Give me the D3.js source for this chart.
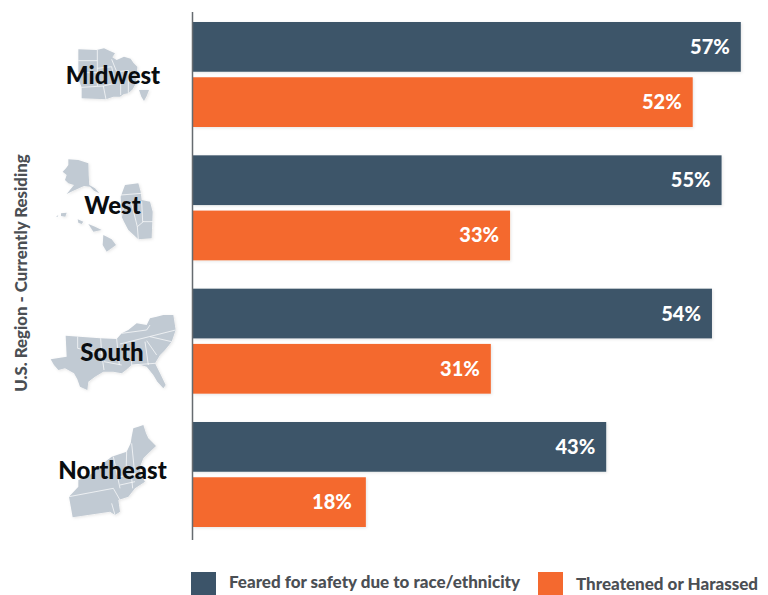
<!DOCTYPE html>
<html>
<head>
<meta charset="utf-8">
<script src="https://cdnjs.cloudflare.com/ajax/libs/d3/7.8.5/d3.min.js"></script>
<style>
  html, body { margin: 0; padding: 0; background: #fff; }
  svg { display: block; font-family: Lato, sans-serif; }
</style>
</head>
<body>
<svg id="chart" width="768" height="595"></svg>
<script>
// Survey results by region
const regions = ["Midwest", "West", "South", "Northeast"];
const seriesNames = ["Feared for safety due to race/ethnicity", "Threatened or Harassed"];
const feared = [57, 55, 54, 43];
const threatened = [52, 33, 31, 18];
const seriesColors = ["#3c5469", "#f4692f"];
const axisTitle = "U.S. Region - Currently Residing";

// Simplified region silhouettes, on a 600-unit grid per 200 pixels of page
const midwestLand = [[[235,148],[290,150],[312,145],[328,152],[345,160],[337,172],[350,180],[372,170],[392,176],[400,188],[412,200],[410,225],[408,250],[398,268],[385,280],[372,282],[360,290],[340,290],[318,298],[245,295],[245,262],[236,240],[235,215]],
  [[417,270],[447,270],[440,288],[432,303],[424,290]]];
const midwestBorders = [[[292,150],[292,258]],[[235,182],[292,182]],[[235,218],[292,218]],[[245,262],[310,258],[318,298]],[[292,205],[335,200],[345,250],[310,258]],[[335,178],[350,215],[385,212]],[[362,215],[362,285]],[[385,212],[385,280]]];
const westLand = [[[205,478],[235,480],[265,490],[266,525],[268,555],[285,565],[298,580],[282,572],[270,560],[252,558],[240,563],[220,572],[200,582],[222,555],[205,550],[195,540],[200,525],[188,515],[198,505],[205,495]],
  [[168,650],[175,645],[173,650]],[[183,640],[200,638],[196,650],[183,648]],[[233,658],[250,665],[245,672],[235,668]],[[265,672],[285,680],[305,690],[280,695]],[[310,705],[335,718],[348,735],[320,755],[308,735]],
  [[375,555],[415,550],[422,575],[425,600],[450,605],[458,635],[455,715],[415,718],[398,702],[385,690],[372,665],[365,650],[362,590]]];
const westBorders = [[[362,585],[425,580]],[[372,612],[425,605]],[[372,612],[365,650]],[[395,612],[412,680],[415,718]],[[425,605],[428,665],[458,665]],[[412,680],[430,665]]];
const southLand = [[[197,197],[300,205],[350,207],[365,190],[385,180],[410,160],[440,165],[450,145],[470,140],[490,135],[520,135],[527,180],[515,215],[495,240],[480,255],[465,280],[480,310],[497,345],[490,355],[472,335],[460,315],[440,290],[415,283],[395,285],[378,300],[365,310],[340,305],[310,305],[285,320],[265,335],[262,360],[240,350],[232,328],[222,310],[195,295],[175,300],[162,285],[152,268],[200,260]]];
const southBorders = [[[233,200],[233,235],[305,250]],[[302,205],[305,250],[312,300]],[[350,207],[358,285]],[[360,222],[527,180]],[[365,190],[440,180],[450,165]],[[395,225],[395,285]],[[435,215],[445,285]],[[440,212],[470,255]],[[395,285],[465,280]],[[312,275],[365,285]],[[450,200],[515,215]]];
const northeastLand = [[[400,475],[415,470],[430,465],[438,490],[445,505],[468,528],[445,550],[430,565],[420,590],[420,610],[435,635],[405,655],[385,680],[355,690],[360,725],[345,735],[330,725],[218,742],[207,680],[235,650],[235,630],[262,620],[290,600],[310,580],[335,560],[380,545],[392,520],[395,500]]];
const northeastBorders = [[[207,680],[340,655],[360,690]],[[340,560],[360,655]],[[380,545],[378,610]],[[395,520],[405,620]],[[358,620],[420,610]],[[360,645],[405,635]],[[395,625],[398,655]],[[335,700],[345,735]]];
const regionLand = [midwestLand, westLand, southLand, northeastLand];
const regionBorders = [midwestBorders, westBorders, southBorders, northeastBorders];
const regionOriginY = [0, 0, 270, 270];
const labelY = [76, 206, 353, 471];
const labelX = [113, 112.5, 112, 112.5];

const svg = d3.select("#chart");
const defs = svg.append("defs");
const soft = defs.append("filter").attr("id", "soft").attr("x", "-5%").attr("y", "-10%").attr("width", "110%").attr("height", "125%");
soft.append("feDropShadow").attr("dx", 1).attr("dy", 1).attr("stdDeviation", 1.5).attr("flood-color", "#000").attr("flood-opacity", 0.1);

const x = d3.scaleLinear().domain([0, 57]).range([192.8, 740.8]);
const y = d3.scaleBand().domain(regions).range([22, 527]).paddingInner(0.2125);
const inner = d3.scaleBand().domain(seriesNames).range([0, y.bandwidth()]).paddingInner(0.1);
const mapScale = d3.scaleLinear().domain([0, 600]).range([0, 200]);
const outline = d3.line().x(p => mapScale(p[0])).y(p => mapScale(p[1]));

// Region silhouettes sit underneath the labels
regions.forEach((r, i) => {
  const g = svg.append("g").attr("transform", `translate(0,${regionOriginY[i]})`);
  g.append("g").attr("filter", "url(#soft)").selectAll("path").data(regionLand[i]).join("path")
    .attr("d", d => outline(d) + "Z").attr("fill", "#c1cad3");
  g.append("g").selectAll("path").data(regionBorders[i]).join("path")
    .attr("d", outline).attr("fill", "none").attr("stroke", "#fff").attr("stroke-width", 0.7);
});

// Bars
const rows = regions.flatMap((r, i) => [
  { region: r, series: seriesNames[0], value: feared[i], color: seriesColors[0] },
  { region: r, series: seriesNames[1], value: threatened[i], color: seriesColors[1] }
]);
svg.append("g").selectAll("rect").data(rows).join("rect")
  .attr("x", x(0))
  .attr("y", d => y(d.region) + inner(d.series))
  .attr("width", d => x(d.value) - x(0))
  .attr("height", inner.bandwidth())
  .attr("fill", d => d.color)
  .attr("filter", "url(#soft)");

// Value labels inside the bar ends; the shortest bar's label sits a little further in
svg.append("g").selectAll("text").data(rows).join("text")
  .attr("x", d => x(d.value) - (d.value < 20 ? 14 : 11))
  .attr("y", d => y(d.region) + inner(d.series) + inner.bandwidth() / 2)
  .attr("dy", "0.35em")
  .attr("text-anchor", "end")
  .attr("fill", "#fff")
  .attr("font-size", 20)
  .attr("font-weight", 900)
  .text(d => d.value + "%");

// Vertical baseline
svg.append("line").attr("x1", 192.5).attr("x2", 192.5).attr("y1", 12).attr("y2", 540)
  .attr("stroke", "#666b70").attr("stroke-width", 1.5);

// Region labels
svg.append("g").selectAll("text").data(regions).join("text")
  .attr("x", (d, i) => labelX[i])
  .attr("y", (d, i) => labelY[i])
  .attr("dy", "0.35em")
  .attr("text-anchor", "middle")
  .attr("fill", "#0a0d10")
  .attr("font-size", 24)
  .attr("font-weight", 900)
  .text(d => d);

// Axis title
svg.append("text")
  .attr("transform", "translate(21,273) rotate(-90)")
  .attr("dy", "0.35em")
  .attr("text-anchor", "middle")
  .attr("fill", "#4b4f54")
  .attr("font-size", 16.8)
  .attr("font-weight", 900)
  .text(axisTitle);

// Legend
const legendX = [191, 538];
const legendTextX = [229, 576];
const legendBase = [588, 590];
const legend = svg.append("g").selectAll("g").data(seriesNames).join("g");
legend.append("rect")
  .attr("x", (d, i) => legendX[i]).attr("y", 572).attr("width", 25).attr("height", 23)
  .attr("fill", (d, i) => seriesColors[i]);
legend.append("text")
  .attr("x", (d, i) => legendTextX[i]).attr("y", (d, i) => legendBase[i])
  .attr("fill", "#4b4f54").attr("font-size", 17).attr("font-weight", 900)
  .text(d => d);
</script>
</body>
</html>
